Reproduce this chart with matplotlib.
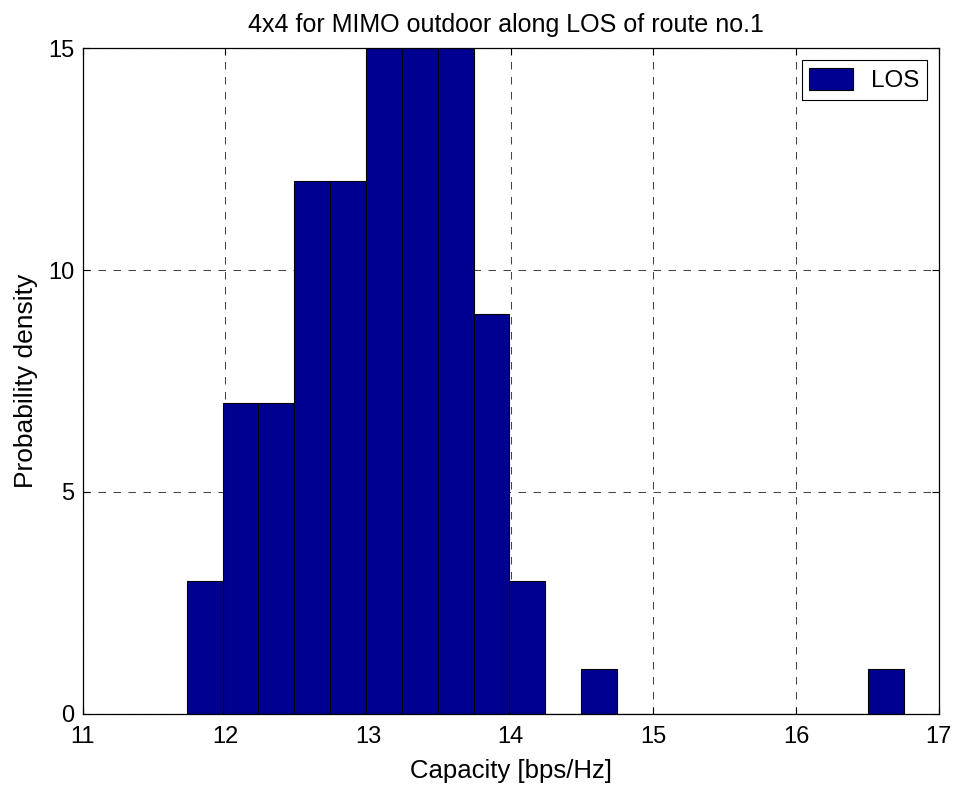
import numpy as np
import matplotlib.pyplot as plt

plt.rcParams['font.family'] = ['Liberation Sans', 'DejaVu Sans']
plt.rcParams['lines.scale_dashes'] = False

# histogram bin edges (20 bins) and counts
edges = [11.730, 11.981, 12.232, 12.484, 12.735, 12.986, 13.237, 13.488,
         13.740, 13.991, 14.242, 14.493, 14.744, 14.996, 15.247, 15.498,
         15.749, 16.000, 16.252, 16.503, 16.754]
counts = [3, 7, 7, 12, 12, 15, 15, 15, 9, 3, 0, 1, 0, 0, 0, 0, 0, 0, 0, 1]
xticks = [11, 12, 13, 14, 15, 16, 17]
yticks = [0, 5, 10, 15]

edges = np.array(edges)
widths = np.diff(edges)

fig = plt.figure(figsize=(9.58, 7.90), dpi=100)
ax = fig.add_axes([0.0863, 0.0966, 0.8937, 0.8423])

ax.bar(edges[:-1], counts, width=widths, align='edge', color='#000090',
       edgecolor='black', linewidth=0.8, label='LOS', zorder=3)

ax.set_xlim(11, 17)
ax.set_ylim(0, 15)
ax.set_xticks(xticks)
ax.set_yticks(yticks)
ax.grid(True, linestyle=(0, (5.4, 5.4)), color='#444444', linewidth=0.75, zorder=0)
ax.set_axisbelow(True)
ax.tick_params(direction='in', length=5, width=0.8, top=True, right=True,
               labelsize=17)
ax.tick_params(axis='x', pad=9)
ax.tick_params(axis='y', pad=6)
for s in ax.spines.values():
    s.set_linewidth(0.9)
    s.set_zorder(5)

ax.set_title('4x4 for MIMO outdoor along LOS of route no.1', fontsize=18,
             pad=11.5, x=0.494)
ax.set_xlabel('Capacity [bps/Hz]', fontsize=18.5, labelpad=8)
ax.set_ylabel('Probability density', fontsize=19, labelpad=7)

leg = ax.legend(loc='upper right', fontsize=17.5, fancybox=False, framealpha=1,
                edgecolor='black', handlelength=1.8, handleheight=1.05,
                handletextpad=0.75, borderaxespad=0.5, borderpad=0.3)
leg.get_frame().set_linewidth(0.8)

fig.savefig('out.png', dpi=100)
